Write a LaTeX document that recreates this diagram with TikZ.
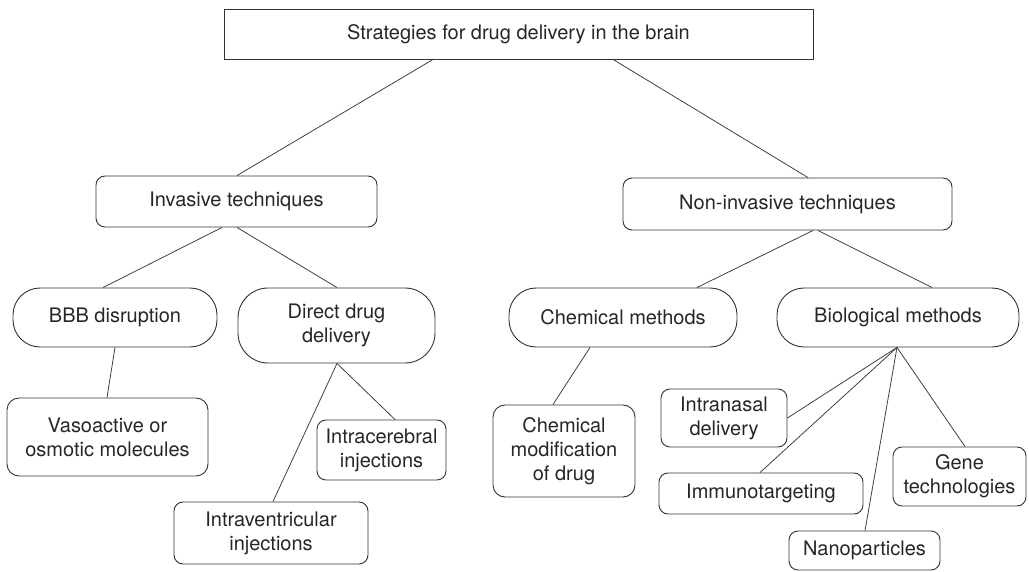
\documentclass[tikz,border=0pt]{standalone}
\usepackage{fontspec}
\setmainfont{TeX Gyre Heros}
\begin{document}
\begin{tikzpicture}[x=1pt,y=-1pt,
  every node/.style={font=\fontsize{20}{24}\selectfont, text=black!85, align=center, inner sep=0pt},
  box/.style={draw=black!80, line width=0.9pt},
  sqbox/.style={box},
  rbox/.style={box, rounded corners=9pt},
  pill/.style={box, rounded corners=27pt},
  link/.style={draw=black!75, line width=0.8pt}]
\useasboundingbox (0,0) rectangle (1029,572);

\node[sqbox, minimum width=589pt, minimum height=50pt] (top) at (518.5,34) {Strategies for drug delivery in the brain};

\node[rbox, minimum width=281pt, minimum height=51pt] (inv) at (236.5,201.5) {Invasive techniques};
\node[rbox, minimum width=329pt, minimum height=52pt] (noninv) at (787.5,204) {Non-invasive techniques};

\node[pill, minimum width=204pt, minimum height=59pt] (bbb) at (115,317.5) {BBB disruption};
\node[pill, rounded corners=30pt, minimum width=197pt, minimum height=75pt] (direct) at (336.5,325.5) {Direct drug\\delivery};
\node[pill, minimum width=228pt, minimum height=59pt] (chem) at (623,317.5) {Chemical methods};
\node[pill, minimum width=242pt, minimum height=59pt] (bio) at (898,317.5) {Biological methods};

\node[rbox, rounded corners=12pt, minimum width=201pt, minimum height=78pt] (vaso) at (107.5,437) {Vasoactive or\\osmotic molecules};
\node[rbox, minimum width=194pt, minimum height=62pt] (ivent) at (271,533) {Intraventricular\\injections};
\node[rbox, minimum width=129pt, minimum height=60pt] (icereb) at (381.5,450) {Intracerebral\\injections};

\node[rbox, rounded corners=12pt, minimum width=142pt, minimum height=92pt] (chemmod) at (564,451) {Chemical\\modification\\of drug};
\node[rbox, minimum width=126pt, minimum height=58pt] (nasal) at (724,418) {Intranasal\\delivery};
\node[rbox, minimum width=204pt, minimum height=41pt] (immuno) at (761,493.5) {Immunotargeting};
\node[rbox, minimum width=151pt, minimum height=39pt] (nano) at (864.5,550.5) {Nanoparticles};
\node[rbox, minimum width=133pt, minimum height=59pt] (gene) at (959.5,476.5) {Gene\\technologies};

\draw[link] ([xshift=-85.5pt]top.south) -- ([xshift=0.5pt]inv.north);
\draw[link] ([xshift=94.5pt]top.south) -- ([xshift=20.5pt]noninv.north);
\draw[link] ([xshift=-14.5pt]inv.south) -- ([xshift=-12pt]bbb.north);
\draw[link] ([xshift=0.5pt]inv.south) -- ([xshift=0.5pt]direct.north);
\draw[link] ([xshift=25.5pt]noninv.south) -- ([xshift=74pt]chem.north);
\draw[link] ([xshift=30.5pt]noninv.south) -- ([xshift=34pt]bio.north);
\draw[link] (bbb.south) -- ([xshift=-0.5pt]vaso.north);
\draw[link] ([xshift=0.5pt]direct.south) -- ([xshift=2pt]ivent.north);
\draw[link] ([xshift=0.5pt]direct.south) -- ([xshift=13.5pt]icereb.north);
\draw[link] ([xshift=-33pt]chem.south) -- ([xshift=-11pt]chemmod.north);
\draw[link] ([xshift=-1pt]bio.south) -- (nasal.east);
\draw[link] ([xshift=-1pt]bio.south) -- ([xshift=-1pt]immuno.north);
\draw[link] ([xshift=-1pt]bio.south) -- ([xshift=0.5pt]nano.north);
\draw[link] ([xshift=-1pt]bio.south) -- ([xshift=5.5pt]gene.north);
\end{tikzpicture}
\end{document}
